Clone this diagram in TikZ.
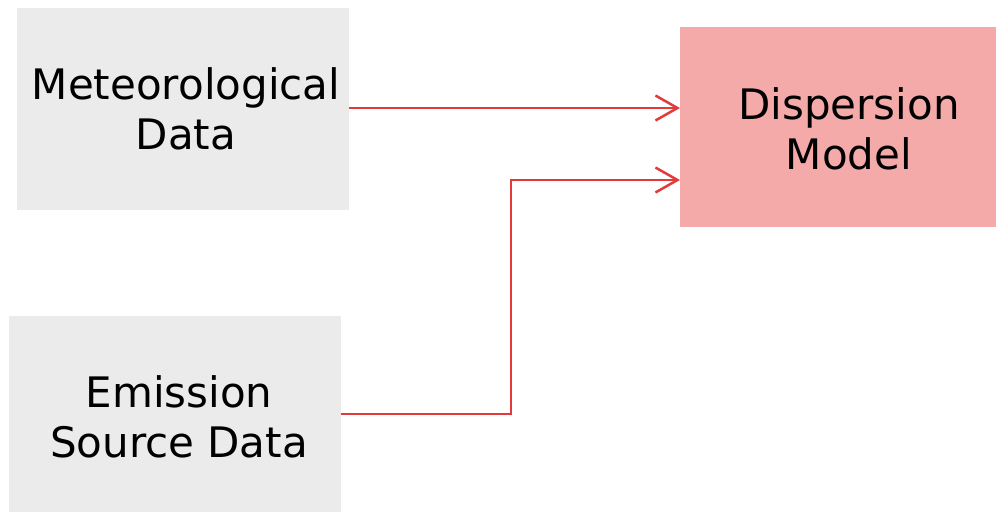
\documentclass[tikz,border=0pt]{standalone}
\usepackage{fontspec}
\setmainfont{DejaVu Sans}
\usetikzlibrary{arrows.meta}
\definecolor{boxgray}{HTML}{EBEBEB}
\definecolor{boxpink}{HTML}{F5AAAA}
\definecolor{linered}{HTML}{E33B3B}
\begin{document}
\begin{tikzpicture}[x=1pt,y=-1pt,
  box/.style={inner sep=0pt, outer sep=0pt, align=center,
    font=\fontsize{42}{50}\selectfont},
  arr/.style={draw=linered, line width=2.5pt,
    -{Straight Barb[length=22pt,width=25pt,line width=2.5pt]}}]
\useasboundingbox (0,0) rectangle (996,512);
\node[box, fill=boxgray, minimum width=332pt, minimum height=202pt] (met) at (183,109) {};
\node[box] (mett) at (186,109) {Meteorological\\Data};
\node[box, fill=boxgray, minimum width=332pt, minimum height=196pt] (emi) at (175,414) {};
\node[box] (emit) at (179,417) {Emission\\Source Data};
\node[box, fill=boxpink, minimum width=316pt, minimum height=200pt] (disp) at (838,127) {};
\node[box] (dispt) at (849,129) {Dispersion\\Model};
\coordinate (bend) at (511,180);
\draw[arr] (met.east |- 0,108) -- (disp.west |- 0,108);
\draw[arr] (emi.east) -| (bend) -- (bend -| disp.west);
\end{tikzpicture}
\end{document}
